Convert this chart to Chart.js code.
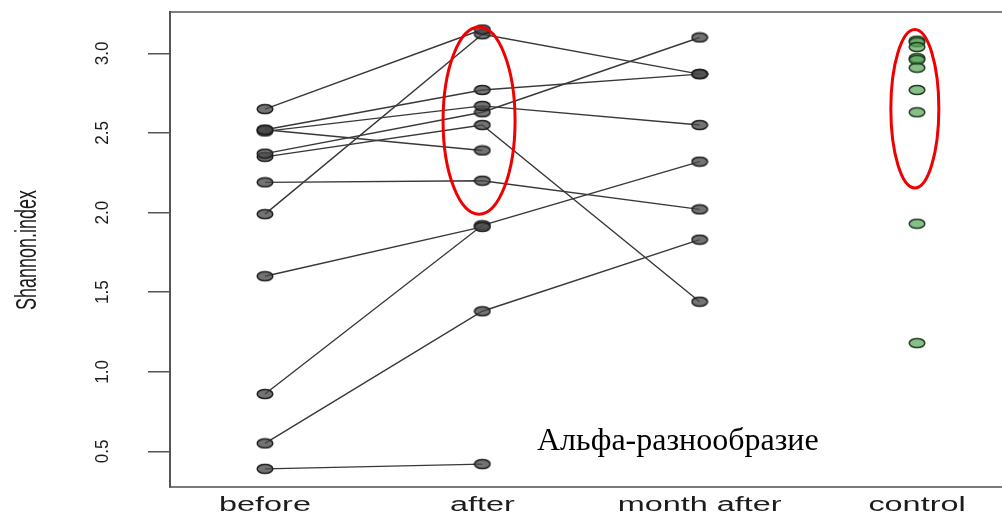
<!DOCTYPE html>
<html>
<head>
<meta charset="utf-8">
<script src="https://cdn.jsdelivr.net/npm/chart.js@4.4.1/dist/chart.umd.min.js"></script>
<style>
  html, body { margin: 0; padding: 0; background: #fff; }
  #wrap { position: relative; width: 1002px; height: 513px; }
</style>
</head>
<body>
<div id="wrap"><canvas id="chart"></canvas></div>
<script>
// --- Données ---
const categories = ['before', 'after', 'month after', 'control'];
const yTicks     = [0.5, 1.0, 1.5, 2.0, 2.5, 3.0];

// un sujet par index : before -> after -> month after (null = pas de mesure)
const before     = [2.65, 1.99, 2.52, 2.51, 2.52, 2.37, 2.35, 2.19, 1.60, 0.86, 0.55, 0.39];
const after      = [3.15, 3.12, 2.77, 2.67, 2.39, 2.63, 2.55, 2.20, 1.91, 1.92, 1.38, 0.42];
const monthAfter = [null, 2.87, 2.87, 2.55, null, 3.10, 1.44, 2.02, null, 2.32, 1.83, null];
const control    = [3.08, 3.07, 3.04, 2.97, 2.96, 2.91, 2.77, 2.63, 1.93, 1.18];

// groupes entourés en rouge : [catégorie, bas, haut]
const circledCategory = [2, 4];
const circledLow      = [1.99, 2.155];
const circledHigh     = [3.165, 3.15];

const noteText = 'Альфа-разнообразие';

// --- Marqueurs elliptiques (style R étiré) ---
function ellipseMark(fill, stroke) {
  const c = document.createElement('canvas');
  c.width = 18; c.height = 12;
  const g = c.getContext('2d');
  g.beginPath();
  g.ellipse(9, 6, 7.8, 4.6, 0, 0, Math.PI * 2);
  g.fillStyle = fill;
  g.fill();
  g.lineWidth = 1.5;
  g.strokeStyle = stroke;
  g.stroke();
  return c;
}
const grayMark  = ellipseMark('rgba(75, 75, 75, 0.78)', '#1e1e1e');
const greenMark = ellipseMark('rgba(90, 165, 90, 0.72)', '#1f3a1f');

const subjectSets = before.map((b, i) => ({
  data: [
    { x: 1, y: b },
    { x: 2, y: after[i] },
    { x: 3, y: monthAfter[i] },
  ],
  borderColor: '#383838',
  borderWidth: 1.4,
  pointStyle: grayMark,
  pointRadius: 8,
  spanGaps: false,
}));

const controlSet = {
  data: control.map(v => ({ x: 4, y: v })),
  showLine: false,
  pointStyle: greenMark,
  pointRadius: 8,
};

// --- Textes, cadre et ellipses rouges ---
const rDecor = {
  id: 'rDecor',
  afterDraw(chart) {
    const { ctx, chartArea, scales: { x, y } } = chart;
    ctx.save();

    // cadre haut
    ctx.strokeStyle = '#555';
    ctx.lineWidth = 1.5;
    ctx.beginPath();
    ctx.moveTo(chartArea.left, chartArea.top);
    ctx.lineTo(chartArea.right, chartArea.top);
    ctx.stroke();

    // ellipses rouges
    const halfW = [36, 24];
    const shift = [-0.015, -0.01];
    ctx.strokeStyle = '#f00000';
    ctx.lineWidth = 3;
    circledCategory.forEach((c, i) => {
      const cx = x.getPixelForValue(c + shift[i]);
      const top = y.getPixelForValue(circledHigh[i]);
      const bot = y.getPixelForValue(circledLow[i]);
      ctx.beginPath();
      ctx.ellipse(cx, (top + bot) / 2, halfW[i], (bot - top) / 2, 0, 0, Math.PI * 2);
      ctx.stroke();
    });

    // étiquettes de l'axe X (étirées comme dans la figure)
    ctx.fillStyle = '#1c1c1c';
    ctx.font = '20px "Liberation Sans", Arial, sans-serif';
    ctx.textAlign = 'center';
    ctx.textBaseline = 'alphabetic';
    categories.forEach((c, i) => {
      ctx.save();
      ctx.translate(x.getPixelForValue(i + 1), 511);
      ctx.scale(1.62, 1);
      ctx.fillText(c, 0, 0);
      ctx.restore();
    });

    // étiquettes de l'axe Y (verticales)
    ctx.font = '18px "Liberation Sans", Arial, sans-serif';
    yTicks.forEach(v => {
      ctx.save();
      ctx.translate(108, y.getPixelForValue(v));
      ctx.rotate(-Math.PI / 2);
      ctx.scale(0.95, 1);
      ctx.fillText(v.toFixed(1), 0, 0);
      ctx.restore();
    });

    // titre de l'axe Y
    ctx.save();
    ctx.font = '30px "Liberation Sans", Arial, sans-serif';
    ctx.translate(36, 250);
    ctx.rotate(-Math.PI / 2);
    ctx.scale(0.6, 1);
    ctx.fillText('Shannon.index', 0, 0);
    ctx.restore();

    // annotation
    ctx.fillStyle = '#000';
    ctx.font = '32px "Liberation Serif", "Times New Roman", serif';
    ctx.textAlign = 'left';
    ctx.fillText(noteText, 537, 450);

    ctx.restore();
  }
};

new Chart(document.getElementById('chart'), {
  type: 'line',
  data: { datasets: [...subjectSets, controlSet] },
  options: {
    responsive: true,
    maintainAspectRatio: false,
    animation: false,
    events: [],
    layout: { autoPadding: false, padding: { top: 12, left: 0, right: 0, bottom: 0 } },
    plugins: {
      legend: { display: false },
      tooltip: { enabled: false },
    },
    scales: {
      x: {
        type: 'linear',
        min: 0.563,
        max: 4.391,
        grid: { display: false },
        border: { display: true, color: '#7a7a7a', width: 2 },
        ticks: { display: false },
        afterFit: (s) => { s.height = 26; },
      },
      y: {
        type: 'linear',
        min: 0.276,
        max: 3.26,
        afterBuildTicks: (s) => { s.ticks = yTicks.map(v => ({ value: v })); },
        ticks: { display: false },
        grid: { drawOnChartArea: false, drawTicks: true, tickLength: 22, color: '#555', lineWidth: 1.5 },
        border: { display: true, color: '#555', width: 2 },
        afterFit: (s) => { s.width = 170; },
      },
    },
  },
  plugins: [rDecor],
});
</script>
</body>
</html>
